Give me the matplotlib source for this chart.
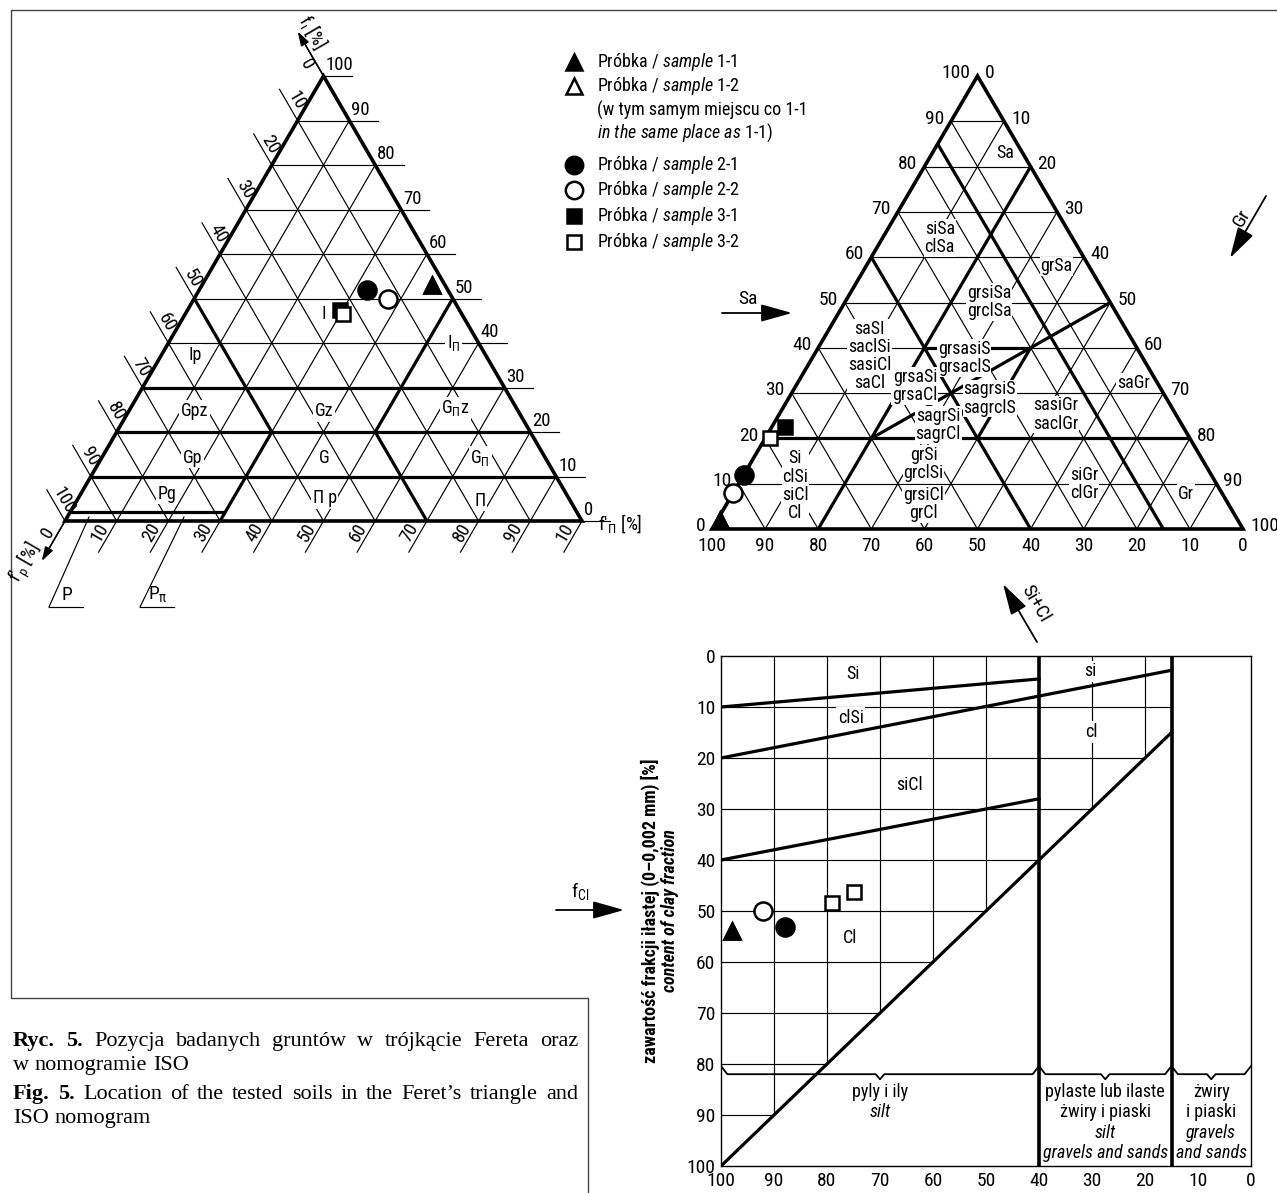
import numpy as np
import matplotlib.pyplot as plt
from matplotlib import font_manager

W, H = 1277, 1193

installed = {f.name for f in font_manager.fontManager.ttflist}
SANS = next((n for n in ['Liberation Sans Narrow', 'Arial Narrow', 'Roboto Condensed']
             if n in installed), 'Liberation Sans')
SERIF = 'Liberation Serif'
plt.rcParams['font.family'] = [SANS, 'DejaVu Sans']
plt.rcParams['mathtext.fontset'] = 'custom'
plt.rcParams['mathtext.rm'] = SANS
plt.rcParams['mathtext.it'] = SANS + ':italic'
plt.rcParams['mathtext.bf'] = SANS + ':bold'

# samples (1-2 lies in the same place as 1-1, drawn underneath it)
samples = ['1-1', '1-2', '2-1', '2-2', '3-1', '3-2']
sample_marker = ['^', '^', 'o', 'o', 's', 's']
sample_filled = [True, False, True, False, True, False]
draw_order = [1, 0, 2, 3, 4, 5]

# Feret triangle: clay f_i and silt f'_Π [%]
feret_clay = [53.0, 53.0, 52.0, 50.0, 47.5, 46.5]
feret_silt = [44.5, 44.5, 32.5, 37.5, 29.5, 30.5]

# ISO triangle: sand Sa and gravel Gr [%]
iso_sand = [2.0, 2.0, 12.0, 8.0, 22.5, 20.0]
iso_gravel = [0.5, 0.5, 0.0, 0.0, 2.5, 1.0]

# ISO nomogram: fines Si+Cl and clay [%]
nomo_fines = [98.0, 98.0, 88.0, 92.0, 75.0, 79.0]
nomo_clay = [54.0, 54.0, 53.2, 50.0, 46.3, 48.4]
nomo_filled = [True, False, True, False, False, False]

# Feret class boundaries, vertices as (f_i, f'_Π)
feret_bounds = [
    [(30, 0), (30, 70)],
    [(20, 0), (20, 80)],
    [(10, 0), (10, 90)],
    [(2, 0), (2, 30)],
    [(50, 0), (20, 30), (0, 30)],
    [(50, 50), (20, 50), (0, 70)],
]
feret_classes = [
    ('Ip', 37.4, 6.4), ('I', 46.5, 26.8), (r'I$_\mathrm{Π}$', 40.0, 55.1),
    ('Gpz', 24.7, 12.7), ('Gz', 24.7, 37.8), (r'G$_\mathrm{Π}$z', 25.3, 62.9),
    ('Gp', 14.2, 17.6), ('G', 14.2, 43.0), (r'G$_\mathrm{Π}$', 14.2, 73.2),
    ('Pg', 6.1, 16.6), ('Π p', 5.1, 47.7), ('Π', 4.6, 78.0),
]
feret_ticks = list(range(0, 101, 10))
feret_base_labels = ['0', '10', '20', '30', '40', '50', '60', '70', '80', '90', '10']

# ISO class boundaries, vertices as (Sa, Gr)
iso_bounds = [
    [(20, 0), (20, 80)],
    [(85, 0), (0, 85)],
    [(60, 0), (0, 60)],
    [(80, 20), (0, 20)],
    [(50, 50), (20, 20)],
    [(40, 40), (20, 40)],
    [(40, 20), (40, 40)],
]
iso_classes = [
    ('Sa', 82.9, 13.8), ('siSa\nclSa', 64.2, 10.8), ('grSa', 58.0, 35.9),
    ('grsiSa\ngrclSa', 50.1, 27.2), ('saSI\nsaclSi\nsasiCl\nsaCl', 38.2, 10.6),
    ('grsasiS\ngrsaclS', 37.8, 28.6), ('grsaSi\ngrsaCl', 31.6, 22.4),
    ('sagrsiS\nsagrclS', 28.8, 37.9), ('saGr', 32.3, 63.2),
    ('sasiGr\nsaclGr', 25.3, 52.0), ('sagrSi\nsagrCl', 23.0, 31.1),
    ('Si\nclSi', 13.6, 8.9), ('grSi\ngrclSi', 14.3, 32.7), ('siCl\nCl', 5.5, 12.9),
    ('grsiCl\ngrCl', 5.5, 37.1), ('siGr\nclGr', 9.9, 65.1), ('Gr', 7.7, 85.4),
]
iso_ticks = list(range(0, 101, 10))

# nomogram grid, boundaries and labels
nomo_ticks = list(range(0, 101, 10))
nomo_grid_x = [90, 80, 70, 60, 50, 30, 20]
nomo_grid_y = [10, 20, 30, 40, 50, 60, 70, 80, 90]
nomo_dividers = [40, 15]
nomo_bounds = [
    [(100, 10), (40, 4.5)],
    [(100, 20), (15, 2.8)],
    [(100, 40), (40, 28)],
    [(100, 100), (15, 15)],
]
nomo_groups = [(100, 40), (40, 15), (15, 0)]
nomo_group_text = [
    [('pyly i ily', 'normal'), ('silt', 'italic')],
    [('pylaste lub ilaste', 'normal'), ('żwiry i piaski', 'normal'),
     ('silt', 'italic'), ('gravels and sands', 'italic')],
    [('żwiry', 'normal'), ('i piaski', 'normal'), ('gravels', 'italic'),
     ('and sands', 'italic')],
]
nomo_classes = [('Si', 75.2, 3.5), ('clSi', 75.5, 12.1), ('siCl', 64.4, 25.3),
                ('Cl', 75.7, 55.3), ('si', 30.3, 3.0), ('cl', 30.2, 14.9)]

LW_THIN, LW_BOLD, LW_EDGE = 0.85, 2.3, 2.6
FS_TICK, FS_FTICK, FS_CLASS, FS_LEG, FS_CAP = 14, 13.5, 13, 13, 16
MS = {'^': 11, 'o': 13, 's': 10}
LEG_MS = {'^': 11, 'o': 12.5, 's': 9.5}
BOX = dict(facecolor='white', edgecolor='none', pad=1.2)

fig = plt.figure(figsize=(W / 100, H / 100), dpi=100)

# page layer in pixels: frame, legend, caption, arrows
page = fig.add_axes([0, 0, 1, 1])
page.set_xlim(0, W)
page.set_ylim(H, 0)
page.set_axis_off()


def overlay(x0, y0, sx, sy):
    ax = fig.add_axes([0, 0, 1, 1])
    ax.set_xlim(-x0 / sx, (W - x0) / sx)
    ax.set_ylim((y0 - H) / sy, y0 / sy)
    ax.set_axis_off()
    return ax


def tern(top, right):
    top = np.asarray(top, float)
    right = np.asarray(right, float)
    return right + top / 2, top


def polyline(ax, pts, lw):
    top, right = np.array(pts, float).T
    x, y = tern(top, right)
    ax.plot(x, y, color='k', lw=lw, solid_capstyle='butt', solid_joinstyle='miter')


def outline(ax):
    x, y = tern([0, 0, 100], [0, 100, 0])
    ax.add_patch(plt.Polygon(np.c_[x, y], closed=True, fill=False, lw=LW_EDGE,
                             joinstyle='miter', zorder=4))


def grid(ax):
    for k in range(10, 100, 10):
        polyline(ax, [(k, 0), (k, 100 - k)], LW_THIN)
        polyline(ax, [(0, k), (100 - k, k)], LW_THIN)
        polyline(ax, [(0, 100 - k), (100 - k, 0)], LW_THIN)


def slanted(ax, p_in, p_out, s, off, frac=0.5, fs=FS_FTICK):
    a = ax.transData.transform(p_in)
    b = ax.transData.transform(p_out)
    d = a - b
    ang = np.degrees(np.arctan2(d[1], d[0]))
    n = np.array([-d[1], d[0]]) / np.hypot(d[0], d[1])
    at = np.asarray(p_out, float) + frac * (np.asarray(p_in, float) - np.asarray(p_out, float))
    ax.annotate(s, xy=at, xytext=tuple(n * off * 0.72), textcoords='offset points',
                rotation=ang, rotation_mode='anchor', ha='center', va='center', fontsize=fs)


def draw_samples(ax, xs, ys, fills):
    for i in draw_order:
        m = sample_marker[i]
        ax.plot(xs[i], ys[i], m, ms=MS[m], mfc='k' if fills[i] else 'white',
                mec='k', mew=1.8, zorder=6)


# ---------------- Feret triangle ----------------
axf = overlay(65, 521, 5.17, 4.45)
grid(axf)
for b in feret_bounds:
    polyline(axf, b, LW_BOLD)
outline(axf)

for k, base_lab in zip(feret_ticks, feret_base_labels):
    # f_i scale on the right edge
    u, v = tern(k, 100 - k)
    axf.plot([u, u + 5.5], [v, v], color='k', lw=LW_THIN)
    axf.text(u + 0.4, v + 0.4, str(k), ha='left', va='bottom', fontsize=FS_FTICK)
    # f'_p scale on the left edge
    p_in, p_out = tern(100 - k, 0), tern(100 - k + 7, -7)
    axf.plot([p_in[0], p_out[0]], [p_in[1], p_out[1]], color='k', lw=LW_THIN)
    slanted(axf, p_in, p_out, str(k), -9 if k == 0 else 9)
    # f'_Π scale along the base
    p_in, p_out = tern(0, k), tern(-7, k)
    axf.plot([p_in[0], p_out[0]], [p_in[1], p_out[1]], color='k', lw=LW_THIN)
    slanted(axf, p_in, p_out, base_lab, 9)

for s, c, si in feret_classes:
    u, v = tern(c, si)
    axf.text(u, v, s, ha='center', va='center', fontsize=FS_CLASS, bbox=BOX, zorder=3)

arrow_small = dict(arrowstyle='-|>,head_length=0.7,head_width=0.22', color='k', lw=1.1,
                   mutation_scale=12, shrinkA=0, shrinkB=0)
apex, tip = tern(100, 0), tern(110, -10)
axf.annotate('', xy=tip, xytext=apex, arrowprops=arrow_small)
slanted(axf, apex, tip, r'f$_\mathrm{ı}$ [%]', 13, frac=0.15)
corner, tip = tern(0, 0), tern(-9, 0)
axf.annotate('', xy=tip, xytext=corner, arrowprops=arrow_small)
slanted(axf, corner, tip, r"f'$_\mathrm{p}$ [%]", 13, frac=-0.2)
u, v = tern(0, 100)
axf.text(u + 3.0, v - 0.5, r"f'$_\mathrm{Π}$ [%]", ha='left', va='center', fontsize=FS_FTICK)

draw_samples(axf, *tern(feret_clay, feret_silt), sample_filled)

# P and Pπ pointers into the bottom strip
for s, end, start in [('P', (89, 517), (49, 607)), (r'P$_\mathrm{π}$', (184, 517), (140, 607))]:
    page.plot([start[0], end[0]], [start[1], end[1]], color='k', lw=LW_THIN)
    page.plot([start[0], start[0] + 34], [start[1], start[1]], color='k', lw=LW_THIN)
    page.text(start[0] + 18, start[1] - 3, s, ha='center', va='bottom', fontsize=FS_TICK)

# ---------------- ISO triangle ----------------
axi = overlay(712, 529, 5.31, 4.53)
grid(axi)
for b in iso_bounds:
    polyline(axi, b, LW_BOLD)
outline(axi)

for k in iso_ticks:
    axi.annotate(str(k), xy=tern(k, 0), xytext=(-5, 2), textcoords='offset points',
                 ha='right', va='center', fontsize=FS_TICK)
    axi.annotate(str(k), xy=tern(100 - k, k), xytext=(5, 2), textcoords='offset points',
                 ha='left', va='center', fontsize=FS_TICK)
    axi.annotate(str(100 - k), xy=tern(0, k), xytext=(0, -6), textcoords='offset points',
                 ha='center', va='top', fontsize=FS_TICK)

for s, sa, gr in iso_classes:
    u, v = tern(sa, gr)
    axi.text(u, v, s, ha='center', va='center', fontsize=FS_CLASS, linespacing=1.02,
             bbox=dict(facecolor='white', edgecolor='none', pad=0.5), zorder=3)

draw_samples(axi, *tern(iso_sand, iso_gravel), sample_filled)

arrow_big = dict(arrowstyle='-|>,head_length=1.6,head_width=0.45', color='k', lw=1.3,
                 mutation_scale=12, shrinkA=0, shrinkB=0)
page.annotate('', xy=(792, 313), xytext=(722, 313), arrowprops=arrow_big)
page.text(748, 308, 'Sa', ha='center', va='bottom', fontsize=FS_TICK)
page.annotate('', xy=(1230, 258), xytext=(1266, 196), arrowprops=arrow_big)
page.text(1242, 218, 'Gr', ha='center', va='center', rotation=60, fontsize=FS_TICK)
page.annotate('', xy=(1003, 584), xytext=(1037, 642), arrowprops=arrow_big)
page.text(1036, 604, 'Si+Cl', ha='center', va='center', rotation=-60, fontsize=FS_TICK)

# ---------------- ISO nomogram ----------------
axn = fig.add_axes([721 / W, 1 - 1166 / H, 530 / W, 510 / H])
axn.patch.set_alpha(0)
axn.set_xlim(100, 0)
axn.set_ylim(100, 0)
axn.set_xticks(nomo_ticks)
axn.set_yticks(nomo_ticks)
axn.tick_params(length=0, labelsize=FS_TICK, pad=4)
for sp in axn.spines.values():
    sp.set_linewidth(1.0)

for x in nomo_grid_x:
    axn.plot([x, x], [0, x], color='k', lw=LW_THIN)
for y in nomo_grid_y:
    axn.plot([100, max(y, 15)], [y, y], color='k', lw=LW_THIN)
for x in nomo_dividers:
    axn.axvline(x, color='k', lw=LW_BOLD + 0.3)
for b in nomo_bounds:
    (x0, y0), (x1, y1) = b
    axn.plot([x0, x1], [y0, y1], color='k', lw=LW_BOLD)

for (x0, x1), lines in zip(nomo_groups, nomo_group_text):
    xm = (x0 + x1) / 2
    axn.plot([x0, x0 - 1.2, xm + 0.8, xm, xm - 0.8, x1 + 1.2, x1],
             [80.4, 82.0, 82.0, 83.0, 82.0, 82.0, 80.4], color='k', lw=1.3)
    for j, (s, st) in enumerate(lines):
        axn.text(xm, 85.5 + 4.0 * j, s, ha='center', va='center', style=st, fontsize=13)

for s, x, y in nomo_classes:
    axn.text(x, y, s, ha='center', va='center', fontsize=FS_CLASS, bbox=BOX, zorder=3)

for i in draw_order:
    m = sample_marker[i]
    axn.plot(nomo_fines[i], nomo_clay[i], m, ms=MS[m],
             mfc='k' if nomo_filled[i] else 'white', mec='k', mew=1.8, zorder=6,
             clip_on=False)

axn.text(-0.133, 0.5, 'zawartość frakcji iłastej (0–0,002 mm) [%]', transform=axn.transAxes,
         rotation=90, ha='center', va='center', fontsize=13, weight='bold')
axn.text(-0.096, 0.5, 'content of clay fraction', transform=axn.transAxes,
         rotation=90, ha='center', va='center', fontsize=13, weight='bold', style='italic')
page.annotate('', xy=(624, 910), xytext=(556, 910), arrowprops=arrow_big)
page.text(580, 902, r'f$_\mathrm{Cl}$', ha='center', va='bottom', fontsize=FS_TICK)

# ---------------- legend ----------------
leg_rows = [62, 86, 165, 190, 216, 242]
for i, y in enumerate(leg_rows):
    m = sample_marker[i]
    page.plot(574, y, m, ms=LEG_MS[m], mfc='k' if sample_filled[i] else 'white',
              mec='k', mew=1.8)
    page.text(597, y, r'Próbka / $\mathit{sample}$ ' + samples[i], va='center', fontsize=FS_LEG)
page.text(597, 110, '(w tym samym miejscu co 1-1', va='center', fontsize=FS_LEG)
page.text(597, 133, r'$\mathit{in\ the\ same\ place\ as\ 1}$-$\mathit{1}$)', va='center',
          fontsize=FS_LEG)

# ---------------- frame and caption ----------------
page.plot([W, 11, 11, 588, 588], [10, 10, 998, 998, H], color='#444444', lw=1.0)

renderer = fig.canvas.get_renderer()


def text_width(s, **kw):
    t = page.text(0, 0, s, family=SERIF, fontsize=FS_CAP, **kw)
    w = t.get_window_extent(renderer).width
    t.remove()
    return w


space_w = text_width('n n') - text_width('nn')


def caption_line(y, words, right=None, x0=13):
    widths = [text_width(s, **kw) for s, kw in words]
    gap = space_w if right is None else (right - x0 - sum(widths)) / (len(words) - 1)
    x = x0
    for (s, kw), w in zip(words, widths):
        page.text(x, y, s, family=SERIF, fontsize=FS_CAP, va='baseline', ha='left', **kw)
        x += w + gap


bold = {'weight': 'bold'}
caption_line(1046, [('Ryc.', bold), ('5.', bold)] +
             [(w, {}) for w in 'Pozycja badanych gruntów w trójkącie Fereta oraz'.split()], right=578)
caption_line(1070, [(w, {}) for w in 'w nomogramie ISO'.split()])
caption_line(1099, [('Fig.', bold), ('5.', bold)] +
             [(w, {}) for w in 'Location of the tested soils in the Feret’s triangle and'.split()], right=578)
caption_line(1123, [(w, {}) for w in 'ISO nomogram'.split()])

fig.savefig('out.png', dpi=100, facecolor='white')
